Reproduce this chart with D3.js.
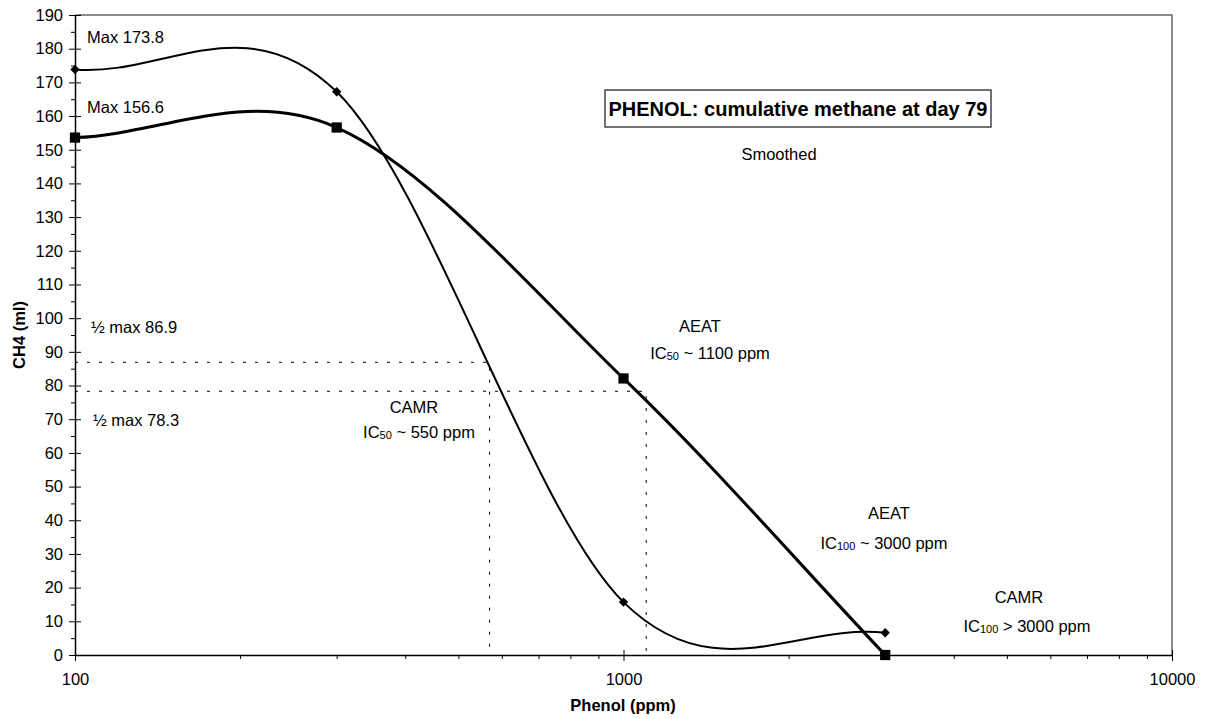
<!DOCTYPE html>
<html>
<head>
<meta charset="utf-8">
<script src="https://cdn.jsdelivr.net/npm/d3@7"></script>
<style>
  body { margin: 0; background: #fff; }
  svg { font-family: "Liberation Sans", Arial, sans-serif; }
  .axis path, .axis line { stroke: #000; }
  .axis text { font-size: 16.5px; fill: #000; }
</style>
</head>
<body>
<svg width="1206" height="719"></svg>
<script>
// Data
const phenol = [100, 300, 1000, 3000]
const camr = [173.8, 167.2, 15.7, 6.6]
const aeat = [153.6, 156.6, 82.1, 0]
const halfMax = [86.9, 78.3]      // half of the two maxima
const ic50 = [570, 1100]          // where the dotted guides drop to the axis
const yTicks = d3.range(0, 191, 10)
const yMinor = d3.range(5, 190, 10)
const xTicks = [100, 1000, 10000]
const xMinor = [200, 300, 400, 500, 600, 700, 800, 900, 2000, 3000, 4000, 5000, 6000, 7000, 8000, 9000]

const svg = d3.select('svg')
const margin = {top: 15, right: 34, bottom: 64, left: 75}
const width = 1206 - margin.left - margin.right
const height = 719 - margin.top - margin.bottom

const x = d3.scaleLog().domain([100, 10000]).range([margin.left, margin.left + width])
const y = d3.scaleLinear().domain([0, 190]).range([margin.top + height, margin.top])

// frame on top and right
svg.append('path')
  .attr('d', `M${x(100)},${y(190)}H${x(10000)}V${y(0)}`)
  .attr('fill', 'none')
  .attr('stroke', '#666')
  .attr('stroke-width', 1.5)

// y axis: labels + outside part of ticks, then inside part, then minor ticks
svg.append('g').attr('class', 'axis')
  .attr('transform', `translate(${x(100)},0)`)
  .call(d3.axisLeft(y).tickValues(yTicks).tickSize(6).tickSizeOuter(0).tickPadding(6))
svg.append('g').attr('class', 'axis')
  .attr('transform', `translate(${x(100)},0)`)
  .call(d3.axisRight(y).tickValues(yTicks).tickSize(6).tickFormat(''))
  .select('.domain').remove()
svg.append('g').attr('class', 'axis')
  .attr('transform', `translate(${x(100)},0)`)
  .call(d3.axisLeft(y).tickValues(yMinor).tickSize(4).tickFormat(''))
  .select('.domain').remove()

// x axis
svg.append('g').attr('class', 'axis')
  .attr('transform', `translate(0,${y(0)})`)
  .call(d3.axisBottom(x).tickValues(xTicks).tickSize(6).tickSizeOuter(0).tickPadding(12.5).tickFormat(d3.format('d')))
svg.append('g').attr('class', 'axis')
  .attr('transform', `translate(0,${y(0)})`)
  .call(d3.axisTop(x).tickValues(xTicks).tickSize(5).tickFormat(''))
  .select('.domain').remove()
svg.append('g').attr('class', 'axis')
  .attr('transform', `translate(0,${y(0)})`)
  .call(d3.axisBottom(x).tickValues(xMinor).tickSize(4).tickFormat(''))
  .select('.domain').remove()
svg.selectAll('.axis .domain').attr('stroke-width', 1.5)

// axis titles
svg.append('text')
  .attr('x', 623).attr('y', 711)
  .attr('text-anchor', 'middle')
  .attr('font-weight', 'bold').attr('font-size', 16.5)
  .text('Phenol (ppm)')
svg.append('text')
  .attr('transform', 'translate(25,335) rotate(-90)')
  .attr('text-anchor', 'middle')
  .attr('font-weight', 'bold').attr('font-size', 16.5)
  .text('CH4 (ml)')

// dotted guides for the half maxima
halfMax.forEach((h, i) => {
  svg.append('path')
    .attr('d', `M${x(100)},${y(h)}H${x(ic50[i])}V${y(0)}`)
    .attr('fill', 'none')
    .attr('stroke', '#000')
    .attr('stroke-width', 1)
    .attr('stroke-dasharray', '3,9')
})

// Excel-style smoothing: Catmull-Rom beziers, end points get a mirrored phantom neighbour
function smooth(pts) {
  const p = pts.map(d => [x(d[0]), y(d[1])])
  const n = p.length
  const get = i => {
    if (i < 0) return [2 * p[0][0] - p[1][0], 2 * p[0][1] - p[1][1]]
    if (i >= n) return [2 * p[n - 1][0] - p[n - 2][0], 2 * p[n - 1][1] - p[n - 2][1]]
    return p[i]
  }
  const path = d3.path()
  path.moveTo(p[0][0], p[0][1])
  for (let i = 0; i < n - 1; i++) {
    const a = get(i - 1), b = p[i], c = p[i + 1], e = get(i + 2)
    path.bezierCurveTo(
      b[0] + (c[0] - a[0]) / 6, b[1] + (c[1] - a[1]) / 6,
      c[0] - (e[0] - b[0]) / 6, c[1] - (e[1] - b[1]) / 6,
      c[0], c[1])
  }
  return path.toString()
}

const camrPts = phenol.map((p, i) => [p, camr[i]])
const aeatPts = phenol.map((p, i) => [p, aeat[i]])

svg.append('path')
  .attr('d', smooth(camrPts)).attr('fill', 'none').attr('stroke', '#000').attr('stroke-width', 2)
svg.append('path')
  .attr('d', smooth(aeatPts)).attr('fill', 'none').attr('stroke', '#000').attr('stroke-width', 3)

svg.selectAll('.diamond').data(camrPts).enter()
  .append('path').attr('class', 'diamond')
  .attr('d', d3.symbol(d3.symbolSquare, 44))
  .attr('transform', d => `translate(${x(d[0])},${y(d[1])}) rotate(45)`)
  .attr('fill', '#000')
svg.selectAll('.square').data(aeatPts).enter()
  .append('path').attr('class', 'square')
  .attr('d', d3.symbol(d3.symbolSquare, 105))
  .attr('transform', d => `translate(${x(d[0])},${y(d[1])})`)
  .attr('fill', '#000')

// title box
svg.append('rect')
  .attr('x', 605).attr('y', 90).attr('width', 386).attr('height', 37)
  .attr('fill', '#fff').attr('stroke', '#444').attr('stroke-width', 1.5)
svg.append('text')
  .attr('x', 798).attr('y', 116)
  .attr('text-anchor', 'middle')
  .attr('font-weight', 'bold').attr('font-size', 20)
  .text('PHENOL: cumulative methane at day 79')

// plain annotations
const note = (tx, ty, txt, anchor) => svg.append('text')
  .attr('x', tx).attr('y', ty)
  .attr('text-anchor', anchor || 'start')
  .attr('font-size', 16.5)
  .text(txt)

note(87, 43, 'Max 173.8')
note(87, 113, 'Max 156.6')
note(779, 160, 'Smoothed', 'middle')
note(91, 333, '½ max 86.9')
note(93, 426, '½ max 78.3')
note(700, 332, 'AEAT', 'middle')
note(414, 413, 'CAMR', 'middle')
note(889, 519, 'AEAT', 'middle')
note(1019, 603, 'CAMR', 'middle')

// IC labels with small subscripts
const icNote = (tx, ty, sub, rest) => {
  const t = svg.append('text')
    .attr('x', tx).attr('y', ty)
    .attr('text-anchor', 'middle')
    .attr('font-size', 16.5)
  t.append('tspan').text('IC')
  t.append('tspan').attr('font-size', 11).attr('dy', 1).text(sub)
  t.append('tspan').attr('dy', -1).text(rest)
}
icNote(710, 359, '50', ' ~ 1100 ppm')
icNote(419, 438, '50', ' ~ 550 ppm')
icNote(884, 549, '100', ' ~ 3000 ppm')
icNote(1027, 632, '100', ' > 3000 ppm')
</script>
</body>
</html>
